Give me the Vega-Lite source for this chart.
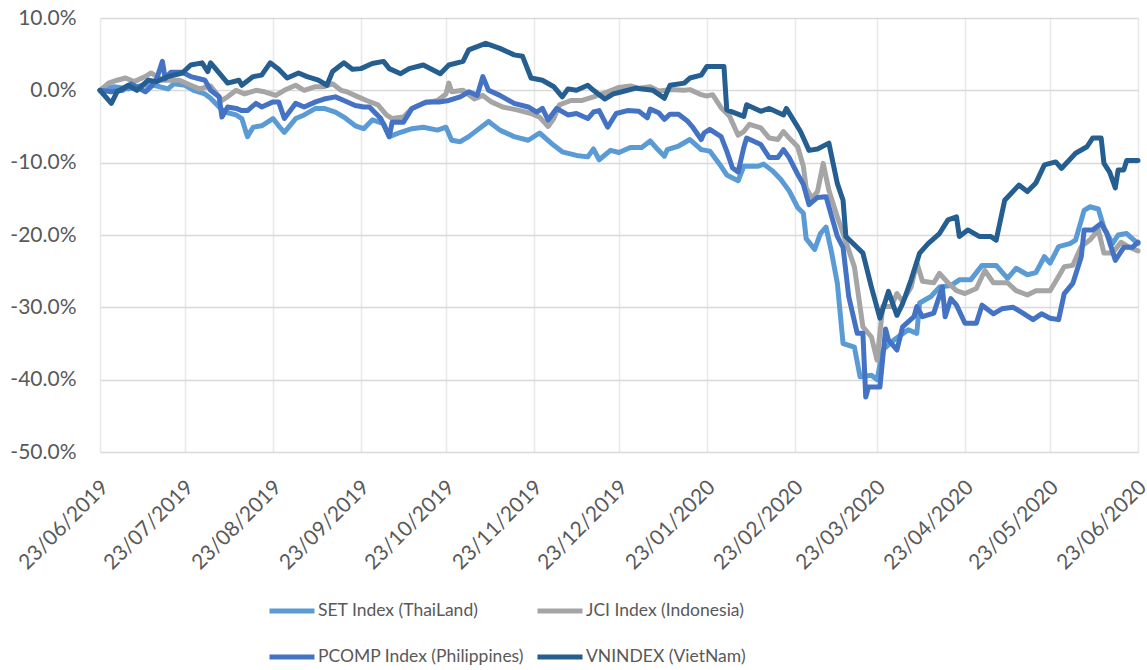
{
"$schema": "https://vega.github.io/schema/vega-lite/v6.json",
"width": 1038, "height": 434,
"autosize": {"type": "none"},
"padding": {"left": 100, "top": 18, "right": 9, "bottom": 218},
"background": "white",
"config": {"font": "Lato", "view": {"stroke": null}},
"data": {"values": [
{"series":"SET Index (ThaiLand)","date":"2019/06/23","value":0},{"series":"SET Index (ThaiLand)","date":"2019/06/28","value":0.5},{"series":"SET Index (ThaiLand)","date":"2019/07/03","value":0.2},{"series":"SET Index (ThaiLand)","date":"2019/07/08","value":0.7},{"series":"SET Index (ThaiLand)","date":"2019/07/12","value":0.7},{"series":"SET Index (ThaiLand)","date":"2019/07/17","value":0.2},{"series":"SET Index (ThaiLand)","date":"2019/07/19","value":0.9},{"series":"SET Index (ThaiLand)","date":"2019/07/23","value":0.7},{"series":"SET Index (ThaiLand)","date":"2019/07/26","value":0.0},{"series":"SET Index (ThaiLand)","date":"2019/07/30","value":-0.5},{"series":"SET Index (ThaiLand)","date":"2019/08/01","value":-1.1},{"series":"SET Index (ThaiLand)","date":"2019/08/04","value":-2.3},{"series":"SET Index (ThaiLand)","date":"2019/08/06","value":-3.0},{"series":"SET Index (ThaiLand)","date":"2019/08/10","value":-3.4},{"series":"SET Index (ThaiLand)","date":"2019/08/12","value":-3.9},{"series":"SET Index (ThaiLand)","date":"2019/08/14","value":-6.4},{"series":"SET Index (ThaiLand)","date":"2019/08/16","value":-5.1},{"series":"SET Index (ThaiLand)","date":"2019/08/19","value":-4.9},{"series":"SET Index (ThaiLand)","date":"2019/08/23","value":-3.9},{"series":"SET Index (ThaiLand)","date":"2019/08/25","value":-4.9},{"series":"SET Index (ThaiLand)","date":"2019/08/27","value":-5.8},{"series":"SET Index (ThaiLand)","date":"2019/08/31","value":-3.9},{"series":"SET Index (ThaiLand)","date":"2019/09/03","value":-3.4},{"series":"SET Index (ThaiLand)","date":"2019/09/07","value":-2.5},{"series":"SET Index (ThaiLand)","date":"2019/09/10","value":-2.5},{"series":"SET Index (ThaiLand)","date":"2019/09/14","value":-3.0},{"series":"SET Index (ThaiLand)","date":"2019/09/17","value":-3.7},{"series":"SET Index (ThaiLand)","date":"2019/09/21","value":-4.9},{"series":"SET Index (ThaiLand)","date":"2019/09/24","value":-5.3},{"series":"SET Index (ThaiLand)","date":"2019/09/27","value":-4.1},{"series":"SET Index (ThaiLand)","date":"2019/10/01","value":-4.6},{"series":"SET Index (ThaiLand)","date":"2019/10/03","value":-6.4},{"series":"SET Index (ThaiLand)","date":"2019/10/07","value":-5.8},{"series":"SET Index (ThaiLand)","date":"2019/10/11","value":-5.3},{"series":"SET Index (ThaiLand)","date":"2019/10/15","value":-5.1},{"series":"SET Index (ThaiLand)","date":"2019/10/20","value":-5.5},{"series":"SET Index (ThaiLand)","date":"2019/10/23","value":-5.1},{"series":"SET Index (ThaiLand)","date":"2019/10/25","value":-6.9},{"series":"SET Index (ThaiLand)","date":"2019/10/28","value":-7.1},{"series":"SET Index (ThaiLand)","date":"2019/10/31","value":-6.4},{"series":"SET Index (ThaiLand)","date":"2019/11/03","value":-5.5},{"series":"SET Index (ThaiLand)","date":"2019/11/07","value":-4.3},{"series":"SET Index (ThaiLand)","date":"2019/11/11","value":-5.5},{"series":"SET Index (ThaiLand)","date":"2019/11/16","value":-6.4},{"series":"SET Index (ThaiLand)","date":"2019/11/21","value":-6.9},{"series":"SET Index (ThaiLand)","date":"2019/11/25","value":-5.9},{"series":"SET Index (ThaiLand)","date":"2019/11/30","value":-7.6},{"series":"SET Index (ThaiLand)","date":"2019/12/03","value":-8.5},{"series":"SET Index (ThaiLand)","date":"2019/12/08","value":-9.0},{"series":"SET Index (ThaiLand)","date":"2019/12/12","value":-9.2},{"series":"SET Index (ThaiLand)","date":"2019/12/14","value":-8.1},{"series":"SET Index (ThaiLand)","date":"2019/12/16","value":-9.6},{"series":"SET Index (ThaiLand)","date":"2019/12/20","value":-8.3},{"series":"SET Index (ThaiLand)","date":"2019/12/23","value":-8.6},{"series":"SET Index (ThaiLand)","date":"2019/12/27","value":-7.9},{"series":"SET Index (ThaiLand)","date":"2019/12/31","value":-7.9},{"series":"SET Index (ThaiLand)","date":"2020/01/03","value":-7.0},{"series":"SET Index (ThaiLand)","date":"2020/01/05","value":-7.9},{"series":"SET Index (ThaiLand)","date":"2020/01/08","value":-9.1},{"series":"SET Index (ThaiLand)","date":"2020/01/09","value":-8.2},{"series":"SET Index (ThaiLand)","date":"2020/01/13","value":-7.7},{"series":"SET Index (ThaiLand)","date":"2020/01/17","value":-6.8},{"series":"SET Index (ThaiLand)","date":"2020/01/21","value":-8.2},{"series":"SET Index (ThaiLand)","date":"2020/01/24","value":-8.4},{"series":"SET Index (ThaiLand)","date":"2020/01/28","value":-10.5},{"series":"SET Index (ThaiLand)","date":"2020/01/30","value":-11.7},{"series":"SET Index (ThaiLand)","date":"2020/02/03","value":-12.5},{"series":"SET Index (ThaiLand)","date":"2020/02/05","value":-10.5},{"series":"SET Index (ThaiLand)","date":"2020/02/10","value":-10.5},{"series":"SET Index (ThaiLand)","date":"2020/02/12","value":-10.2},{"series":"SET Index (ThaiLand)","date":"2020/02/15","value":-11.1},{"series":"SET Index (ThaiLand)","date":"2020/02/18","value":-12.3},{"series":"SET Index (ThaiLand)","date":"2020/02/21","value":-13.9},{"series":"SET Index (ThaiLand)","date":"2020/02/24","value":-16.2},{"series":"SET Index (ThaiLand)","date":"2020/02/26","value":-17.0},{"series":"SET Index (ThaiLand)","date":"2020/02/27","value":-20.5},{"series":"SET Index (ThaiLand)","date":"2020/03/01","value":-22.0},{"series":"SET Index (ThaiLand)","date":"2020/03/03","value":-19.8},{"series":"SET Index (ThaiLand)","date":"2020/03/05","value":-18.9},{"series":"SET Index (ThaiLand)","date":"2020/03/07","value":-22.5},{"series":"SET Index (ThaiLand)","date":"2020/03/09","value":-26.7},{"series":"SET Index (ThaiLand)","date":"2020/03/11","value":-35.0},{"series":"SET Index (ThaiLand)","date":"2020/03/15","value":-35.5},{"series":"SET Index (ThaiLand)","date":"2020/03/17","value":-39.6},{"series":"SET Index (ThaiLand)","date":"2020/03/21","value":-39.4},{"series":"SET Index (ThaiLand)","date":"2020/03/23","value":-40.0},{"series":"SET Index (ThaiLand)","date":"2020/03/25","value":-35.9},{"series":"SET Index (ThaiLand)","date":"2020/03/29","value":-34.5},{"series":"SET Index (ThaiLand)","date":"2020/04/03","value":-33.1},{"series":"SET Index (ThaiLand)","date":"2020/04/06","value":-33.6},{"series":"SET Index (ThaiLand)","date":"2020/04/07","value":-29.4},{"series":"SET Index (ThaiLand)","date":"2020/04/11","value":-28.5},{"series":"SET Index (ThaiLand)","date":"2020/04/14","value":-27.2},{"series":"SET Index (ThaiLand)","date":"2020/04/18","value":-27.0},{"series":"SET Index (ThaiLand)","date":"2020/04/21","value":-26.2},{"series":"SET Index (ThaiLand)","date":"2020/04/25","value":-26.2},{"series":"SET Index (ThaiLand)","date":"2020/04/29","value":-24.2},{"series":"SET Index (ThaiLand)","date":"2020/05/04","value":-24.2},{"series":"SET Index (ThaiLand)","date":"2020/05/08","value":-26.0},{"series":"SET Index (ThaiLand)","date":"2020/05/11","value":-24.6},{"series":"SET Index (ThaiLand)","date":"2020/05/15","value":-25.5},{"series":"SET Index (ThaiLand)","date":"2020/05/18","value":-25.2},{"series":"SET Index (ThaiLand)","date":"2020/05/21","value":-23.0},{"series":"SET Index (ThaiLand)","date":"2020/05/23","value":-23.9},{"series":"SET Index (ThaiLand)","date":"2020/05/26","value":-21.6},{"series":"SET Index (ThaiLand)","date":"2020/05/30","value":-21.2},{"series":"SET Index (ThaiLand)","date":"2020/06/01","value":-20.7},{"series":"SET Index (ThaiLand)","date":"2020/06/04","value":-16.6},{"series":"SET Index (ThaiLand)","date":"2020/06/06","value":-16.1},{"series":"SET Index (ThaiLand)","date":"2020/06/09","value":-16.4},{"series":"SET Index (ThaiLand)","date":"2020/06/11","value":-19.0},{"series":"SET Index (ThaiLand)","date":"2020/06/14","value":-21.2},{"series":"SET Index (ThaiLand)","date":"2020/06/16","value":-20.0},{"series":"SET Index (ThaiLand)","date":"2020/06/19","value":-19.8},{"series":"SET Index (ThaiLand)","date":"2020/06/23","value":-21.2},

{"series":"JCI Index (Indonesia)","date":"2019/06/23","value":0},{"series":"JCI Index (Indonesia)","date":"2019/06/26","value":1.0},{"series":"JCI Index (Indonesia)","date":"2019/06/29","value":1.4},{"series":"JCI Index (Indonesia)","date":"2019/07/02","value":1.7},{"series":"JCI Index (Indonesia)","date":"2019/07/05","value":1.2},{"series":"JCI Index (Indonesia)","date":"2019/07/09","value":1.9},{"series":"JCI Index (Indonesia)","date":"2019/07/11","value":2.4},{"series":"JCI Index (Indonesia)","date":"2019/07/15","value":1.4},{"series":"JCI Index (Indonesia)","date":"2019/07/21","value":1.4},{"series":"JCI Index (Indonesia)","date":"2019/07/25","value":0.7},{"series":"JCI Index (Indonesia)","date":"2019/07/28","value":0.2},{"series":"JCI Index (Indonesia)","date":"2019/08/01","value":0.6},{"series":"JCI Index (Indonesia)","date":"2019/08/05","value":-1.4},{"series":"JCI Index (Indonesia)","date":"2019/08/07","value":-0.9},{"series":"JCI Index (Indonesia)","date":"2019/08/10","value":0.0},{"series":"JCI Index (Indonesia)","date":"2019/08/13","value":-0.5},{"series":"JCI Index (Indonesia)","date":"2019/08/17","value":0.0},{"series":"JCI Index (Indonesia)","date":"2019/08/20","value":-0.2},{"series":"JCI Index (Indonesia)","date":"2019/08/24","value":-0.7},{"series":"JCI Index (Indonesia)","date":"2019/08/27","value":0.0},{"series":"JCI Index (Indonesia)","date":"2019/08/31","value":0.7},{"series":"JCI Index (Indonesia)","date":"2019/09/03","value":0.0},{"series":"JCI Index (Indonesia)","date":"2019/09/07","value":0.5},{"series":"JCI Index (Indonesia)","date":"2019/09/10","value":0.5},{"series":"JCI Index (Indonesia)","date":"2019/09/13","value":0.9},{"series":"JCI Index (Indonesia)","date":"2019/09/16","value":0.0},{"series":"JCI Index (Indonesia)","date":"2019/09/18","value":-0.2},{"series":"JCI Index (Indonesia)","date":"2019/09/22","value":-0.9},{"series":"JCI Index (Indonesia)","date":"2019/09/25","value":-1.4},{"series":"JCI Index (Indonesia)","date":"2019/09/29","value":-2.0},{"series":"JCI Index (Indonesia)","date":"2019/10/02","value":-3.4},{"series":"JCI Index (Indonesia)","date":"2019/10/04","value":-3.9},{"series":"JCI Index (Indonesia)","date":"2019/10/08","value":-3.7},{"series":"JCI Index (Indonesia)","date":"2019/10/11","value":-2.5},{"series":"JCI Index (Indonesia)","date":"2019/10/15","value":-1.8},{"series":"JCI Index (Indonesia)","date":"2019/10/20","value":-1.4},{"series":"JCI Index (Indonesia)","date":"2019/10/23","value":-0.5},{"series":"JCI Index (Indonesia)","date":"2019/10/24","value":1.0},{"series":"JCI Index (Indonesia)","date":"2019/10/25","value":-0.2},{"series":"JCI Index (Indonesia)","date":"2019/10/29","value":0.0},{"series":"JCI Index (Indonesia)","date":"2019/11/02","value":-1.2},{"series":"JCI Index (Indonesia)","date":"2019/11/05","value":-0.7},{"series":"JCI Index (Indonesia)","date":"2019/11/08","value":-1.6},{"series":"JCI Index (Indonesia)","date":"2019/11/12","value":-2.3},{"series":"JCI Index (Indonesia)","date":"2019/11/17","value":-2.7},{"series":"JCI Index (Indonesia)","date":"2019/11/22","value":-3.2},{"series":"JCI Index (Indonesia)","date":"2019/11/25","value":-3.7},{"series":"JCI Index (Indonesia)","date":"2019/11/28","value":-5.0},{"series":"JCI Index (Indonesia)","date":"2019/11/30","value":-3.9},{"series":"JCI Index (Indonesia)","date":"2019/12/02","value":-2.0},{"series":"JCI Index (Indonesia)","date":"2019/12/06","value":-1.4},{"series":"JCI Index (Indonesia)","date":"2019/12/10","value":-1.4},{"series":"JCI Index (Indonesia)","date":"2019/12/14","value":-0.9},{"series":"JCI Index (Indonesia)","date":"2019/12/19","value":-0.2},{"series":"JCI Index (Indonesia)","date":"2019/12/23","value":0.4},{"series":"JCI Index (Indonesia)","date":"2019/12/27","value":0.6},{"series":"JCI Index (Indonesia)","date":"2019/12/30","value":0.3},{"series":"JCI Index (Indonesia)","date":"2020/01/03","value":0.5},{"series":"JCI Index (Indonesia)","date":"2020/01/06","value":-0.1},{"series":"JCI Index (Indonesia)","date":"2020/01/10","value":0.1},{"series":"JCI Index (Indonesia)","date":"2020/01/15","value":0.0},{"series":"JCI Index (Indonesia)","date":"2020/01/17","value":0.1},{"series":"JCI Index (Indonesia)","date":"2020/01/21","value":-0.6},{"series":"JCI Index (Indonesia)","date":"2020/01/23","value":-0.8},{"series":"JCI Index (Indonesia)","date":"2020/01/25","value":-0.6},{"series":"JCI Index (Indonesia)","date":"2020/01/28","value":-2.4},{"series":"JCI Index (Indonesia)","date":"2020/01/31","value":-3.6},{"series":"JCI Index (Indonesia)","date":"2020/02/03","value":-6.2},{"series":"JCI Index (Indonesia)","date":"2020/02/05","value":-5.7},{"series":"JCI Index (Indonesia)","date":"2020/02/07","value":-4.7},{"series":"JCI Index (Indonesia)","date":"2020/02/11","value":-5.2},{"series":"JCI Index (Indonesia)","date":"2020/02/14","value":-6.6},{"series":"JCI Index (Indonesia)","date":"2020/02/17","value":-6.8},{"series":"JCI Index (Indonesia)","date":"2020/02/19","value":-5.7},{"series":"JCI Index (Indonesia)","date":"2020/02/21","value":-6.6},{"series":"JCI Index (Indonesia)","date":"2020/02/24","value":-7.8},{"series":"JCI Index (Indonesia)","date":"2020/02/26","value":-10.5},{"series":"JCI Index (Indonesia)","date":"2020/02/27","value":-13.5},{"series":"JCI Index (Indonesia)","date":"2020/02/29","value":-14.9},{"series":"JCI Index (Indonesia)","date":"2020/03/02","value":-14.0},{"series":"JCI Index (Indonesia)","date":"2020/03/04","value":-10.1},{"series":"JCI Index (Indonesia)","date":"2020/03/06","value":-13.8},{"series":"JCI Index (Indonesia)","date":"2020/03/09","value":-17.5},{"series":"JCI Index (Indonesia)","date":"2020/03/11","value":-19.8},{"series":"JCI Index (Indonesia)","date":"2020/03/15","value":-24.4},{"series":"JCI Index (Indonesia)","date":"2020/03/18","value":-32.7},{"series":"JCI Index (Indonesia)","date":"2020/03/21","value":-34.1},{"series":"JCI Index (Indonesia)","date":"2020/03/23","value":-37.3},{"series":"JCI Index (Indonesia)","date":"2020/03/25","value":-29.9},{"series":"JCI Index (Indonesia)","date":"2020/03/28","value":-29.9},{"series":"JCI Index (Indonesia)","date":"2020/03/30","value":-28.1},{"series":"JCI Index (Indonesia)","date":"2020/04/01","value":-29.2},{"series":"JCI Index (Indonesia)","date":"2020/04/04","value":-27.2},{"series":"JCI Index (Indonesia)","date":"2020/04/06","value":-23.8},{"series":"JCI Index (Indonesia)","date":"2020/04/08","value":-26.4},{"series":"JCI Index (Indonesia)","date":"2020/04/12","value":-26.6},{"series":"JCI Index (Indonesia)","date":"2020/04/14","value":-25.3},{"series":"JCI Index (Indonesia)","date":"2020/04/17","value":-26.6},{"series":"JCI Index (Indonesia)","date":"2020/04/20","value":-27.7},{"series":"JCI Index (Indonesia)","date":"2020/04/23","value":-28.1},{"series":"JCI Index (Indonesia)","date":"2020/04/27","value":-27.4},{"series":"JCI Index (Indonesia)","date":"2020/04/30","value":-24.9},{"series":"JCI Index (Indonesia)","date":"2020/05/03","value":-26.6},{"series":"JCI Index (Indonesia)","date":"2020/05/08","value":-26.6},{"series":"JCI Index (Indonesia)","date":"2020/05/11","value":-27.7},{"series":"JCI Index (Indonesia)","date":"2020/05/15","value":-28.3},{"series":"JCI Index (Indonesia)","date":"2020/05/18","value":-27.7},{"series":"JCI Index (Indonesia)","date":"2020/05/23","value":-27.7},{"series":"JCI Index (Indonesia)","date":"2020/05/25","value":-26.4},{"series":"JCI Index (Indonesia)","date":"2020/05/28","value":-24.4},{"series":"JCI Index (Indonesia)","date":"2020/05/31","value":-24.2},{"series":"JCI Index (Indonesia)","date":"2020/06/03","value":-21.6},{"series":"JCI Index (Indonesia)","date":"2020/06/06","value":-20.7},{"series":"JCI Index (Indonesia)","date":"2020/06/09","value":-19.3},{"series":"JCI Index (Indonesia)","date":"2020/06/11","value":-22.5},{"series":"JCI Index (Indonesia)","date":"2020/06/14","value":-22.5},{"series":"JCI Index (Indonesia)","date":"2020/06/17","value":-21.0},{"series":"JCI Index (Indonesia)","date":"2020/06/20","value":-21.7},{"series":"JCI Index (Indonesia)","date":"2020/06/23","value":-22.2},

{"series":"PCOMP Index (Philippines)","date":"2019/06/23","value":0},{"series":"PCOMP Index (Philippines)","date":"2019/06/27","value":-0.2},{"series":"PCOMP Index (Philippines)","date":"2019/07/01","value":0.0},{"series":"PCOMP Index (Philippines)","date":"2019/07/04","value":0.9},{"series":"PCOMP Index (Philippines)","date":"2019/07/09","value":-0.2},{"series":"PCOMP Index (Philippines)","date":"2019/07/11","value":0.5},{"series":"PCOMP Index (Philippines)","date":"2019/07/13","value":1.6},{"series":"PCOMP Index (Philippines)","date":"2019/07/15","value":4.0},{"series":"PCOMP Index (Philippines)","date":"2019/07/16","value":1.6},{"series":"PCOMP Index (Philippines)","date":"2019/07/18","value":2.5},{"series":"PCOMP Index (Philippines)","date":"2019/07/22","value":2.5},{"series":"PCOMP Index (Philippines)","date":"2019/07/25","value":1.9},{"series":"PCOMP Index (Philippines)","date":"2019/07/28","value":1.6},{"series":"PCOMP Index (Philippines)","date":"2019/07/30","value":1.4},{"series":"PCOMP Index (Philippines)","date":"2019/08/01","value":0.0},{"series":"PCOMP Index (Philippines)","date":"2019/08/04","value":-0.9},{"series":"PCOMP Index (Philippines)","date":"2019/08/05","value":-3.7},{"series":"PCOMP Index (Philippines)","date":"2019/08/07","value":-2.3},{"series":"PCOMP Index (Philippines)","date":"2019/08/10","value":-2.5},{"series":"PCOMP Index (Philippines)","date":"2019/08/12","value":-2.8},{"series":"PCOMP Index (Philippines)","date":"2019/08/14","value":-2.8},{"series":"PCOMP Index (Philippines)","date":"2019/08/17","value":-1.8},{"series":"PCOMP Index (Philippines)","date":"2019/08/19","value":-2.3},{"series":"PCOMP Index (Philippines)","date":"2019/08/23","value":-1.6},{"series":"PCOMP Index (Philippines)","date":"2019/08/25","value":-1.6},{"series":"PCOMP Index (Philippines)","date":"2019/08/27","value":-3.9},{"series":"PCOMP Index (Philippines)","date":"2019/08/31","value":-1.8},{"series":"PCOMP Index (Philippines)","date":"2019/09/03","value":-2.3},{"series":"PCOMP Index (Philippines)","date":"2019/09/07","value":-1.6},{"series":"PCOMP Index (Philippines)","date":"2019/09/10","value":-1.2},{"series":"PCOMP Index (Philippines)","date":"2019/09/14","value":-0.9},{"series":"PCOMP Index (Philippines)","date":"2019/09/17","value":-1.4},{"series":"PCOMP Index (Philippines)","date":"2019/09/21","value":-2.1},{"series":"PCOMP Index (Philippines)","date":"2019/09/24","value":-2.3},{"series":"PCOMP Index (Philippines)","date":"2019/09/26","value":-2.3},{"series":"PCOMP Index (Philippines)","date":"2019/09/30","value":-3.9},{"series":"PCOMP Index (Philippines)","date":"2019/10/03","value":-6.4},{"series":"PCOMP Index (Philippines)","date":"2019/10/04","value":-4.4},{"series":"PCOMP Index (Philippines)","date":"2019/10/08","value":-4.4},{"series":"PCOMP Index (Philippines)","date":"2019/10/11","value":-2.5},{"series":"PCOMP Index (Philippines)","date":"2019/10/16","value":-1.6},{"series":"PCOMP Index (Philippines)","date":"2019/10/21","value":-1.6},{"series":"PCOMP Index (Philippines)","date":"2019/10/24","value":-1.4},{"series":"PCOMP Index (Philippines)","date":"2019/10/28","value":-0.9},{"series":"PCOMP Index (Philippines)","date":"2019/10/31","value":-0.2},{"series":"PCOMP Index (Philippines)","date":"2019/11/03","value":-0.7},{"series":"PCOMP Index (Philippines)","date":"2019/11/05","value":1.9},{"series":"PCOMP Index (Philippines)","date":"2019/11/07","value":0.0},{"series":"PCOMP Index (Philippines)","date":"2019/11/11","value":-0.7},{"series":"PCOMP Index (Philippines)","date":"2019/11/16","value":-1.8},{"series":"PCOMP Index (Philippines)","date":"2019/11/21","value":-2.3},{"series":"PCOMP Index (Philippines)","date":"2019/11/24","value":-3.0},{"series":"PCOMP Index (Philippines)","date":"2019/11/26","value":-2.5},{"series":"PCOMP Index (Philippines)","date":"2019/11/28","value":-4.1},{"series":"PCOMP Index (Philippines)","date":"2019/12/01","value":-2.5},{"series":"PCOMP Index (Philippines)","date":"2019/12/05","value":-3.4},{"series":"PCOMP Index (Philippines)","date":"2019/12/08","value":-3.2},{"series":"PCOMP Index (Philippines)","date":"2019/12/12","value":-3.9},{"series":"PCOMP Index (Philippines)","date":"2019/12/14","value":-3.0},{"series":"PCOMP Index (Philippines)","date":"2019/12/16","value":-2.8},{"series":"PCOMP Index (Philippines)","date":"2019/12/19","value":-5.1},{"series":"PCOMP Index (Philippines)","date":"2019/12/22","value":-3.2},{"series":"PCOMP Index (Philippines)","date":"2019/12/26","value":-2.8},{"series":"PCOMP Index (Philippines)","date":"2019/12/30","value":-2.9},{"series":"PCOMP Index (Philippines)","date":"2020/01/02","value":-3.8},{"series":"PCOMP Index (Philippines)","date":"2020/01/03","value":-2.6},{"series":"PCOMP Index (Philippines)","date":"2020/01/06","value":-3.1},{"series":"PCOMP Index (Philippines)","date":"2020/01/08","value":-4.0},{"series":"PCOMP Index (Philippines)","date":"2020/01/10","value":-3.3},{"series":"PCOMP Index (Philippines)","date":"2020/01/13","value":-3.3},{"series":"PCOMP Index (Philippines)","date":"2020/01/16","value":-4.2},{"series":"PCOMP Index (Philippines)","date":"2020/01/18","value":-5.1},{"series":"PCOMP Index (Philippines)","date":"2020/01/21","value":-6.8},{"series":"PCOMP Index (Philippines)","date":"2020/01/22","value":-5.9},{"series":"PCOMP Index (Philippines)","date":"2020/01/24","value":-5.4},{"series":"PCOMP Index (Philippines)","date":"2020/01/28","value":-6.4},{"series":"PCOMP Index (Philippines)","date":"2020/01/30","value":-8.4},{"series":"PCOMP Index (Philippines)","date":"2020/02/01","value":-10.7},{"series":"PCOMP Index (Philippines)","date":"2020/02/03","value":-11.3},{"series":"PCOMP Index (Philippines)","date":"2020/02/05","value":-7.9},{"series":"PCOMP Index (Philippines)","date":"2020/02/06","value":-6.6},{"series":"PCOMP Index (Philippines)","date":"2020/02/11","value":-7.5},{"series":"PCOMP Index (Philippines)","date":"2020/02/14","value":-9.3},{"series":"PCOMP Index (Philippines)","date":"2020/02/17","value":-9.3},{"series":"PCOMP Index (Philippines)","date":"2020/02/19","value":-8.2},{"series":"PCOMP Index (Philippines)","date":"2020/02/21","value":-9.3},{"series":"PCOMP Index (Philippines)","date":"2020/02/24","value":-11.6},{"series":"PCOMP Index (Philippines)","date":"2020/02/26","value":-13.0},{"series":"PCOMP Index (Philippines)","date":"2020/02/28","value":-15.8},{"series":"PCOMP Index (Philippines)","date":"2020/03/02","value":-14.8},{"series":"PCOMP Index (Philippines)","date":"2020/03/05","value":-14.7},{"series":"PCOMP Index (Philippines)","date":"2020/03/09","value":-20.2},{"series":"PCOMP Index (Philippines)","date":"2020/03/11","value":-21.7},{"series":"PCOMP Index (Philippines)","date":"2020/03/13","value":-28.5},{"series":"PCOMP Index (Philippines)","date":"2020/03/16","value":-33.6},{"series":"PCOMP Index (Philippines)","date":"2020/03/18","value":-33.6},{"series":"PCOMP Index (Philippines)","date":"2020/03/19","value":-42.4},{"series":"PCOMP Index (Philippines)","date":"2020/03/20","value":-41.0},{"series":"PCOMP Index (Philippines)","date":"2020/03/24","value":-41.0},{"series":"PCOMP Index (Philippines)","date":"2020/03/26","value":-33.0},{"series":"PCOMP Index (Philippines)","date":"2020/03/27","value":-34.5},{"series":"PCOMP Index (Philippines)","date":"2020/03/30","value":-35.9},{"series":"PCOMP Index (Philippines)","date":"2020/04/01","value":-32.7},{"series":"PCOMP Index (Philippines)","date":"2020/04/05","value":-31.3},{"series":"PCOMP Index (Philippines)","date":"2020/04/06","value":-29.9},{"series":"PCOMP Index (Philippines)","date":"2020/04/08","value":-31.3},{"series":"PCOMP Index (Philippines)","date":"2020/04/12","value":-30.8},{"series":"PCOMP Index (Philippines)","date":"2020/04/15","value":-27.2},{"series":"PCOMP Index (Philippines)","date":"2020/04/16","value":-31.3},{"series":"PCOMP Index (Philippines)","date":"2020/04/18","value":-28.8},{"series":"PCOMP Index (Philippines)","date":"2020/04/20","value":-29.7},{"series":"PCOMP Index (Philippines)","date":"2020/04/23","value":-32.2},{"series":"PCOMP Index (Philippines)","date":"2020/04/27","value":-32.2},{"series":"PCOMP Index (Philippines)","date":"2020/04/29","value":-29.7},{"series":"PCOMP Index (Philippines)","date":"2020/05/03","value":-30.9},{"series":"PCOMP Index (Philippines)","date":"2020/05/06","value":-30.2},{"series":"PCOMP Index (Philippines)","date":"2020/05/10","value":-30.0},{"series":"PCOMP Index (Philippines)","date":"2020/05/13","value":-30.7},{"series":"PCOMP Index (Philippines)","date":"2020/05/17","value":-31.7},{"series":"PCOMP Index (Philippines)","date":"2020/05/20","value":-30.9},{"series":"PCOMP Index (Philippines)","date":"2020/05/23","value":-31.5},{"series":"PCOMP Index (Philippines)","date":"2020/05/26","value":-31.7},{"series":"PCOMP Index (Philippines)","date":"2020/05/28","value":-28.1},{"series":"PCOMP Index (Philippines)","date":"2020/05/31","value":-26.7},{"series":"PCOMP Index (Philippines)","date":"2020/06/03","value":-23.0},{"series":"PCOMP Index (Philippines)","date":"2020/06/04","value":-19.3},{"series":"PCOMP Index (Philippines)","date":"2020/06/07","value":-19.3},{"series":"PCOMP Index (Philippines)","date":"2020/06/10","value":-18.4},{"series":"PCOMP Index (Philippines)","date":"2020/06/12","value":-19.8},{"series":"PCOMP Index (Philippines)","date":"2020/06/15","value":-23.5},{"series":"PCOMP Index (Philippines)","date":"2020/06/18","value":-21.7},{"series":"PCOMP Index (Philippines)","date":"2020/06/21","value":-21.7},{"series":"PCOMP Index (Philippines)","date":"2020/06/23","value":-21.0},

{"series":"VNINDEX (VietNam)","date":"2019/06/23","value":0},{"series":"VNINDEX (VietNam)","date":"2019/06/27","value":-1.8},{"series":"VNINDEX (VietNam)","date":"2019/06/29","value":-0.2},{"series":"VNINDEX (VietNam)","date":"2019/07/03","value":0.7},{"series":"VNINDEX (VietNam)","date":"2019/07/06","value":0.0},{"series":"VNINDEX (VietNam)","date":"2019/07/10","value":1.4},{"series":"VNINDEX (VietNam)","date":"2019/07/13","value":1.2},{"series":"VNINDEX (VietNam)","date":"2019/07/17","value":1.9},{"series":"VNINDEX (VietNam)","date":"2019/07/22","value":2.4},{"series":"VNINDEX (VietNam)","date":"2019/07/25","value":3.5},{"series":"VNINDEX (VietNam)","date":"2019/07/29","value":3.8},{"series":"VNINDEX (VietNam)","date":"2019/07/31","value":2.6},{"series":"VNINDEX (VietNam)","date":"2019/08/01","value":3.8},{"series":"VNINDEX (VietNam)","date":"2019/08/04","value":2.4},{"series":"VNINDEX (VietNam)","date":"2019/08/07","value":1.0},{"series":"VNINDEX (VietNam)","date":"2019/08/11","value":1.4},{"series":"VNINDEX (VietNam)","date":"2019/08/12","value":0.7},{"series":"VNINDEX (VietNam)","date":"2019/08/16","value":1.9},{"series":"VNINDEX (VietNam)","date":"2019/08/19","value":2.1},{"series":"VNINDEX (VietNam)","date":"2019/08/22","value":3.8},{"series":"VNINDEX (VietNam)","date":"2019/08/25","value":2.9},{"series":"VNINDEX (VietNam)","date":"2019/08/28","value":1.7},{"series":"VNINDEX (VietNam)","date":"2019/09/01","value":2.4},{"series":"VNINDEX (VietNam)","date":"2019/09/04","value":1.9},{"series":"VNINDEX (VietNam)","date":"2019/09/08","value":1.4},{"series":"VNINDEX (VietNam)","date":"2019/09/11","value":0.7},{"series":"VNINDEX (VietNam)","date":"2019/09/13","value":2.6},{"series":"VNINDEX (VietNam)","date":"2019/09/17","value":3.8},{"series":"VNINDEX (VietNam)","date":"2019/09/20","value":2.9},{"series":"VNINDEX (VietNam)","date":"2019/09/23","value":3.0},{"series":"VNINDEX (VietNam)","date":"2019/09/27","value":3.7},{"series":"VNINDEX (VietNam)","date":"2019/10/01","value":4.0},{"series":"VNINDEX (VietNam)","date":"2019/10/03","value":3.0},{"series":"VNINDEX (VietNam)","date":"2019/10/07","value":2.3},{"series":"VNINDEX (VietNam)","date":"2019/10/10","value":3.0},{"series":"VNINDEX (VietNam)","date":"2019/10/15","value":3.5},{"series":"VNINDEX (VietNam)","date":"2019/10/21","value":2.3},{"series":"VNINDEX (VietNam)","date":"2019/10/24","value":3.5},{"series":"VNINDEX (VietNam)","date":"2019/10/29","value":4.0},{"series":"VNINDEX (VietNam)","date":"2019/10/31","value":5.6},{"series":"VNINDEX (VietNam)","date":"2019/11/06","value":6.5},{"series":"VNINDEX (VietNam)","date":"2019/11/11","value":5.8},{"series":"VNINDEX (VietNam)","date":"2019/11/16","value":4.9},{"series":"VNINDEX (VietNam)","date":"2019/11/19","value":4.7},{"series":"VNINDEX (VietNam)","date":"2019/11/22","value":1.7},{"series":"VNINDEX (VietNam)","date":"2019/11/26","value":1.4},{"series":"VNINDEX (VietNam)","date":"2019/11/30","value":0.5},{"series":"VNINDEX (VietNam)","date":"2019/12/03","value":-0.9},{"series":"VNINDEX (VietNam)","date":"2019/12/05","value":0.2},{"series":"VNINDEX (VietNam)","date":"2019/12/08","value":0.0},{"series":"VNINDEX (VietNam)","date":"2019/12/12","value":0.7},{"series":"VNINDEX (VietNam)","date":"2019/12/14","value":0.0},{"series":"VNINDEX (VietNam)","date":"2019/12/18","value":-1.2},{"series":"VNINDEX (VietNam)","date":"2019/12/21","value":-0.5},{"series":"VNINDEX (VietNam)","date":"2019/12/23","value":-0.3},{"series":"VNINDEX (VietNam)","date":"2019/12/29","value":0.3},{"series":"VNINDEX (VietNam)","date":"2020/01/04","value":0.0},{"series":"VNINDEX (VietNam)","date":"2020/01/08","value":-1.1},{"series":"VNINDEX (VietNam)","date":"2020/01/10","value":0.7},{"series":"VNINDEX (VietNam)","date":"2020/01/15","value":1.0},{"series":"VNINDEX (VietNam)","date":"2020/01/17","value":1.7},{"series":"VNINDEX (VietNam)","date":"2020/01/21","value":2.1},{"series":"VNINDEX (VietNam)","date":"2020/01/23","value":3.3},{"series":"VNINDEX (VietNam)","date":"2020/01/29","value":3.3},{"series":"VNINDEX (VietNam)","date":"2020/01/30","value":-2.7},{"series":"VNINDEX (VietNam)","date":"2020/02/05","value":-3.6},{"series":"VNINDEX (VietNam)","date":"2020/02/06","value":-2.0},{"series":"VNINDEX (VietNam)","date":"2020/02/11","value":-2.9},{"series":"VNINDEX (VietNam)","date":"2020/02/14","value":-2.5},{"series":"VNINDEX (VietNam)","date":"2020/02/19","value":-3.4},{"series":"VNINDEX (VietNam)","date":"2020/02/20","value":-2.5},{"series":"VNINDEX (VietNam)","date":"2020/02/25","value":-5.7},{"series":"VNINDEX (VietNam)","date":"2020/02/28","value":-8.3},{"series":"VNINDEX (VietNam)","date":"2020/03/02","value":-8.1},{"series":"VNINDEX (VietNam)","date":"2020/03/06","value":-7.3},{"series":"VNINDEX (VietNam)","date":"2020/03/09","value":-12.9},{"series":"VNINDEX (VietNam)","date":"2020/03/11","value":-15.2},{"series":"VNINDEX (VietNam)","date":"2020/03/12","value":-20.2},{"series":"VNINDEX (VietNam)","date":"2020/03/18","value":-22.5},{"series":"VNINDEX (VietNam)","date":"2020/03/21","value":-27.2},{"series":"VNINDEX (VietNam)","date":"2020/03/24","value":-31.5},{"series":"VNINDEX (VietNam)","date":"2020/03/27","value":-27.8},{"series":"VNINDEX (VietNam)","date":"2020/03/30","value":-31.1},{"series":"VNINDEX (VietNam)","date":"2020/04/01","value":-29.5},{"series":"VNINDEX (VietNam)","date":"2020/04/04","value":-26.2},{"series":"VNINDEX (VietNam)","date":"2020/04/07","value":-22.5},{"series":"VNINDEX (VietNam)","date":"2020/04/10","value":-21.2},{"series":"VNINDEX (VietNam)","date":"2020/04/14","value":-19.8},{"series":"VNINDEX (VietNam)","date":"2020/04/17","value":-17.9},{"series":"VNINDEX (VietNam)","date":"2020/04/20","value":-17.5},{"series":"VNINDEX (VietNam)","date":"2020/04/21","value":-20.2},{"series":"VNINDEX (VietNam)","date":"2020/04/24","value":-19.3},{"series":"VNINDEX (VietNam)","date":"2020/04/28","value":-20.2},{"series":"VNINDEX (VietNam)","date":"2020/05/02","value":-20.2},{"series":"VNINDEX (VietNam)","date":"2020/05/04","value":-20.7},{"series":"VNINDEX (VietNam)","date":"2020/05/07","value":-15.2},{"series":"VNINDEX (VietNam)","date":"2020/05/12","value":-13.1},{"series":"VNINDEX (VietNam)","date":"2020/05/15","value":-14.0},{"series":"VNINDEX (VietNam)","date":"2020/05/18","value":-12.8},{"series":"VNINDEX (VietNam)","date":"2020/05/21","value":-10.3},{"series":"VNINDEX (VietNam)","date":"2020/05/25","value":-9.9},{"series":"VNINDEX (VietNam)","date":"2020/05/27","value":-10.8},{"series":"VNINDEX (VietNam)","date":"2020/06/01","value":-8.7},{"series":"VNINDEX (VietNam)","date":"2020/06/05","value":-7.8},{"series":"VNINDEX (VietNam)","date":"2020/06/07","value":-6.6},{"series":"VNINDEX (VietNam)","date":"2020/06/10","value":-6.6},{"series":"VNINDEX (VietNam)","date":"2020/06/11","value":-10.1},{"series":"VNINDEX (VietNam)","date":"2020/06/13","value":-11.3},{"series":"VNINDEX (VietNam)","date":"2020/06/15","value":-13.5},{"series":"VNINDEX (VietNam)","date":"2020/06/16","value":-11.0},{"series":"VNINDEX (VietNam)","date":"2020/06/18","value":-11.0},{"series":"VNINDEX (VietNam)","date":"2020/06/19","value":-9.7},{"series":"VNINDEX (VietNam)","date":"2020/06/23","value":-9.7}
]},
"mark": {"type": "line", "strokeWidth": 5, "strokeJoin": "round", "strokeCap": "round"},
"encoding": {
  "x": {"field": "date", "type": "temporal",
    "scale": {"domain": [{"year": 2019, "month": 6, "date": 23}, {"year": 2020, "month": 6, "date": 23}], "nice": false},
    "axis": {"title": null, "format": "%d/%m/%Y", "labelAngle": -45, "labelFontSize": 21, "labelColor": "#595959", "labelPadding": 24, "labelOffset": -3, "labelOverlap": false, "labelBound": false, "labelFlush": false,
      "values": [{"year": 2019, "month": 6, "date": 23}, {"year": 2019, "month": 7, "date": 23}, {"year": 2019, "month": 8, "date": 23}, {"year": 2019, "month": 9, "date": 23}, {"year": 2019, "month": 10, "date": 23}, {"year": 2019, "month": 11, "date": 23}, {"year": 2019, "month": 12, "date": 23}, {"year": 2020, "month": 1, "date": 23}, {"year": 2020, "month": 2, "date": 23}, {"year": 2020, "month": 3, "date": 23}, {"year": 2020, "month": 4, "date": 23}, {"year": 2020, "month": 5, "date": 23}, {"year": 2020, "month": 6, "date": 23}],
      "grid": true, "gridColor": "#e8e8e8", "gridWidth": 1.5, "ticks": false, "domain": false}},
  "y": {"field": "value", "type": "quantitative",
    "scale": {"domain": [-50, 10], "nice": false, "zero": false},
    "axis": {"title": null, "values": [-50, -40, -30, -20, -10, 0, 10], "labelExpr": "(datum.value < 0 ? '-' : '') + format(abs(datum.value), '.1f') + '%'", "labelFontSize": 21, "labelColor": "#595959", "labelPadding": 24, "gridColor": "#d9d9d9", "gridWidth": 1.5, "ticks": false, "domain": false}},
  "color": {"field": "series", "type": "nominal",
    "scale": {"domain": ["SET Index (ThaiLand)", "JCI Index (Indonesia)", "PCOMP Index (Philippines)", "VNINDEX (VietNam)"], "range": ["#5B9BD5", "#A5A5A5", "#4472C4", "#255E91"]},
    "legend": {"title": null, "orient": "none", "legendX": 167, "legendY": 568, "columns": 2, "direction": "horizontal", "symbolType": "stroke", "symbolSize": 2025, "symbolStrokeWidth": 5, "labelFontSize": 17.5, "labelColor": "#595959", "labelOffset": 1, "labelLimit": 500, "columnPadding": 3, "rowPadding": 11, "padding": 0}}
}
}
